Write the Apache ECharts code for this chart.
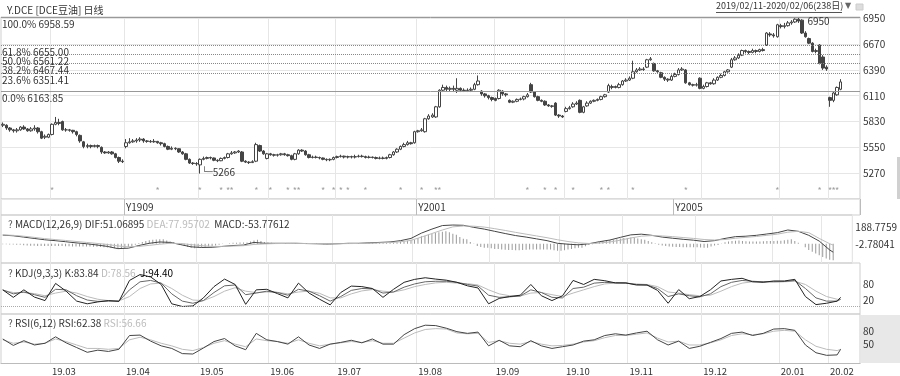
<!DOCTYPE html>
<html lang="zh">
<head>
<meta charset="UTF-8">
<title>Y.DCE 日线</title>
<script src="https://cdn.jsdelivr.net/npm/echarts@6.0.0/dist/echarts.min.js"></script>
</head>
<body style="margin:0;background:#fff">
<div id="main" style="width:900px;height:376px"></div>
<script>
// [open, close, low, high] per trading day
var candles = [
    // 2019.02
    [5790,5800,5770,5820],[5790,5760,5740,5800],[5760,5740,5720,5770],[5740,5730,5710,5750],[5730,5740,5710,5760],
    [5740,5770,5730,5780],[5770,5750,5740,5790],[5750,5730,5720,5760],[5730,5750,5720,5770],[5750,5760,5730,5790],
    [5760,5720,5700,5770],[5720,5650,5640,5730],[5660,5670,5640,5690],[5660,5690,5650,5700],
    // 2019.03
    [5690,5800,5680,5810],[5800,5820,5790,5880],[5820,5810,5790,5860],[5830,5740,5730,5840],[5740,5740,5720,5760],
    [5740,5735,5720,5750],[5735,5720,5700,5740],[5720,5690,5670,5730],[5680,5620,5600,5690],[5610,5560,5540,5620],
    [5560,5570,5540,5590],[5570,5560,5540,5580],[5560,5570,5550,5580],[5570,5560,5540,5580],[5550,5500,5480,5560],
    [5500,5490,5480,5510],[5490,5500,5480,5510],[5500,5480,5470,5510],[5480,5440,5430,5490],[5440,5400,5380,5450],
    [5400,5395,5380,5420],
    // 2019.04
    [5560,5600,5540,5640],[5600,5610,5590,5650],[5610,5620,5600,5640],[5620,5630,5600,5650],[5630,5640,5610,5660],
    [5640,5620,5600,5650],[5620,5615,5600,5630],[5615,5610,5600,5630],[5610,5615,5600,5640],[5615,5600,5590,5620],
    [5600,5590,5570,5610],[5590,5560,5550,5600],[5560,5530,5520,5570],[5530,5540,5520,5560],[5540,5535,5520,5550],
    [5535,5500,5490,5540],[5500,5480,5470,5510],[5480,5420,5410,5490],[5420,5380,5370,5430],[5380,5375,5360,5390],
    [5375,5370,5350,5390],
    // 2019.05
    [5360,5420,5266,5430],[5420,5430,5410,5450],[5430,5440,5420,5450],[5440,5435,5420,5450],[5435,5410,5400,5440],
    [5410,5405,5390,5420],[5405,5430,5400,5440],[5430,5440,5420,5450],[5440,5480,5430,5490],[5480,5490,5470,5510],
    [5490,5500,5480,5510],[5500,5510,5490,5520],[5500,5400,5390,5510],[5400,5390,5380,5410],[5390,5385,5370,5400],
    [5385,5395,5380,5410],[5400,5580,5390,5600],[5570,5510,5500,5580],[5510,5480,5470,5520],[5430,5480,5420,5490],
    // 2019.06
    [5480,5470,5460,5490],[5470,5465,5450,5480],[5465,5470,5450,5480],[5470,5480,5460,5490],[5480,5470,5460,5490],
    [5470,5460,5450,5480],[5460,5420,5410,5470],[5420,5480,5410,5490],[5480,5520,5470,5530],[5520,5510,5500,5530],
    [5510,5470,5460,5520],[5470,5440,5430,5480],[5440,5445,5430,5460],[5445,5440,5430,5460],[5440,5435,5420,5450],
    [5435,5420,5410,5440],[5420,5415,5400,5430],[5415,5420,5400,5430],[5420,5440,5410,5450],
    // 2019.07
    [5440,5450,5430,5460],[5450,5455,5440,5470],[5455,5445,5430,5460],[5445,5450,5430,5460],[5450,5445,5430,5460],
    [5445,5450,5430,5470],[5450,5455,5440,5470],[5455,5450,5440,5470],[5450,5440,5430,5460],[5440,5445,5430,5460],
    [5445,5440,5430,5450],[5440,5430,5420,5450],[5430,5435,5420,5450],[5435,5430,5420,5450],[5430,5440,5420,5450],
    [5440,5470,5430,5480],[5470,5500,5460,5510],[5500,5530,5490,5540],[5530,5560,5520,5570],[5560,5580,5550,5600],
    [5580,5600,5570,5620],[5600,5590,5580,5610],[5600,5720,5590,5730],
    // 2019.08
    [5720,5730,5710,5740],[5730,5740,5720,5760],[5720,5860,5710,5870],[5860,5890,5850,5910],[5880,5900,5870,5920],
    [5880,5990,5870,6000],[5990,6170,5980,6180],[6170,6200,6150,6230],[6200,6180,6160,6220],[6180,6190,6160,6210],
    [6190,6180,6150,6220],[6170,6190,6140,6300],[6190,6170,6150,6200],[6170,6165,6150,6190],[6165,6170,6150,6190],
    [6170,6180,6150,6200],[6180,6230,6170,6250],[6230,6270,6220,6330],[6160,6130,6110,6170],[6130,6110,6090,6140],
    [6110,6090,6070,6120],[6090,6070,6050,6100],
    // 2019.09
    [6080,6060,6050,6090],[6080,6170,6070,6180],[6160,6130,6110,6170],[6130,6120,6100,6140],[6060,6040,6030,6070],
    [6040,6050,6030,6060],[6050,6070,6040,6080],[6070,6075,6060,6090],[6075,6100,6060,6110],[6100,6120,6090,6140],
    [6230,6150,6140,6250],[6150,6100,6090,6160],[6100,6060,6050,6110],[6060,6050,6040,6070],[6050,6010,6000,6060],
    [6010,6000,5990,6020],[6000,5995,5980,6010],[6030,5900,5890,6040],[5900,5890,5870,5910],[5890,5880,5870,5900],
    // 2019.10
    [5940,5970,5930,5990],[5970,5980,5960,6000],[5990,6020,5980,6040],[6020,6030,6010,6050],[6060,5930,5920,6070],
    [5930,5990,5920,6000],[6000,6030,5990,6050],[6030,6050,6020,6060],[6050,6060,6040,6070],[6060,6070,6050,6080],
    [6070,6100,6060,6110],[6100,6120,6090,6130],[6150,6220,6140,6240],[6200,6210,6180,6230],[6210,6200,6190,6220],
    [6200,6230,6190,6250],[6230,6270,6220,6280],[6270,6280,6260,6300],
    // 2019.11
    [6280,6300,6270,6320],[6300,6370,6290,6490],[6370,6390,6360,6410],[6390,6400,6380,6420],[6400,6395,6380,6420],
    [6420,6500,6410,6510],[6500,6510,6490,6530],[6460,6380,6370,6470],[6380,6370,6360,6390],[6360,6310,6300,6370],
    [6310,6290,6270,6320],[6290,6280,6260,6300],[6280,6320,6270,6340],[6320,6340,6310,6360],[6340,6390,6330,6410],
    [6390,6400,6380,6420],[6390,6250,6240,6400],[6250,6230,6220,6260],[6230,6225,6210,6240],[6225,6230,6210,6250],
    [6300,6190,6180,6310],
    // 2019.12
    [6190,6210,6180,6230],[6210,6250,6200,6260],[6250,6240,6230,6260],[6240,6280,6230,6300],[6280,6310,6270,6320],
    [6310,6330,6300,6350],[6330,6370,6320,6380],[6370,6390,6360,6400],[6420,6500,6410,6520],[6500,6520,6490,6540],
    [6520,6550,6510,6570],[6550,6600,6540,6610],[6600,6590,6570,6610],[6590,6580,6560,6600],[6580,6600,6570,6620],
    [6600,6590,6570,6610],[6590,6610,6580,6620],[6610,6600,6590,6630],[6660,6790,6650,6800],[6780,6770,6750,6800],
    [6770,6760,6740,6790],[6750,6880,6740,6890],
    // 2020.01
    [6870,6860,6840,6890],[6860,6870,6840,6900],[6870,6900,6860,6920],[6900,6910,6880,6930],[6910,6940,6900,6950],
    [6940,6920,6900,6958],[6930,6790,6780,6940],[6790,6750,6740,6810],[6730,6680,6670,6740],[6680,6590,6580,6690],
    [6590,6600,6570,6620],[6660,6460,6450,6670],[6530,6410,6390,6550],[6420,6400,6380,6440],
    // 2020.02
    [6090,6060,5990,6100],[6060,6140,6040,6150],[6120,6200,6110,6210],[6180,6260,6170,6290]
];

var monthLabels = ['19.03', '19.04', '19.05', '19.06', '19.07', '19.08', '19.09', '19.10', '19.11', '19.12', '20.01', '20.02'];
var monthStarts = [14, 35, 56, 76, 95, 118, 140, 160, 178, 199, 221, 235];
var rollLabels = ['Y1909', 'Y2001', 'Y2005'];
var rollStarts = [35, 118, 191];
var starIdx = [14, 44, 56, 62, 64, 65, 72, 76, 81, 83, 84, 91, 94, 96, 98, 103, 113, 119, 123, 124,
    149, 154, 157, 162, 170, 172, 179, 194, 220, 232, 235, 236, 237];
var starLevel = 5080;

var fibPct = ['100.0%', '61.8%', '50.0%', '38.2%', '23.6%', '0.0%'];
var fibVal = [6958.59, 6655.00, 6561.22, 6467.44, 6351.41, 6163.85];
var fibSolid = [true, false, false, false, false, true];

// indicator lines, read every third day
var sampleIdx = [0,3,6,9,12,15,18,21,24,27,30,33,36,39,42,45,48,51,54,57,60,63,66,69,72,75,78,81,84,87,
    90,93,96,99,102,105,108,111,114,117,120,123,126,129,132,135,138,141,144,147,150,153,156,159,162,165,
    168,171,174,177,180,183,186,189,192,195,198,201,204,207,210,213,216,219,222,225,228,231,234,237,238];
var macdDif = [97,90,75,60,45,35,23,10,0,-14,-30,-55,-50,-20,5,20,15,-10,-35,-42,-40,-30,-20,-15,15,5,5,5,5,2,
    0,-3,0,5,5,10,15,20,35,60,120,165,205,211,208,185,165,140,115,92,75,55,35,5,-5,-12,0,23,42,72,100,108,95,
    75,62,50,40,25,35,60,80,85,95,110,125,155,140,95,30,-70,-95];
var macdDea = [100,95,85,72,58,47,37,26,15,4,-8,-25,-35,-30,-18,-5,5,3,-10,-22,-30,-30,-26,-22,-8,-2,2,3,4,3,
    2,0,0,2,3,6,10,14,22,38,75,115,155,190,200,198,188,170,150,128,108,88,68,45,25,10,3,8,20,40,65,85,92,
    88,80,70,60,48,42,48,62,72,82,95,108,130,140,125,60,0,-15];
// MACD bars, one per day
var macdHist = [-5,-6,-8,-9,-10,-12,-16,-20,-22,-23,-24,-25,-26,-26,-25,-24,-24,-26,-27,-28,-30,-31,-32,-31,
    -30,-30,-33,-35,-36,-39,-42,-44,-50,-56,-60,-48,-38,-30,-10,8,20,32,40,46,48,50,50,36,26,20,4,-12,-26,-36,
    -44,-50,-46,-42,-40,-32,-26,-20,-12,-4,0,6,10,12,13,14,14,24,38,46,30,20,14,10,7,6,5,4,4,3,2,2,0,
    -1,-2,-3,-4,-4,-5,-6,-6,-3,0,0,3,5,6,5,4,4,6,8,8,9,10,10,11,12,12,18,24,26,34,44,44,66,84,90,104,
    114,120,130,136,140,130,114,100,76,56,50,20,-4,-26,-36,-44,-46,-52,-58,-60,-64,-68,-70,-71,-72,-72,-70,
    -68,-66,-66,-66,-66,-66,-66,-66,-72,-78,-80,-72,-64,-60,-52,-46,-44,-28,-14,-6,10,22,30,36,42,44,52,
    60,64,66,70,70,60,50,46,30,16,6,-10,-20,-26,-30,-34,-36,-38,-40,-40,-40,-40,-40,-42,-44,-46,-30,
    -20,-14,4,16,24,30,34,36,32,28,26,26,26,26,28,30,30,32,34,34,40,46,50,30,10,0,-40,-70,-90,-110,
    -130,-150,-165,-180,-185];
var kdjK = [60,45,52,42,32,62,60,38,22,17,18,18,60,90,95,85,45,18,10,20,50,75,78,42,48,55,50,40,62,55,
    38,18,35,58,65,64,48,52,70,82,90,92,92,88,80,74,40,32,34,37,60,50,32,30,65,70,85,88,86,85,80,78,65,
    35,45,38,34,45,72,88,95,92,90,90,91,95,65,30,18,18,25];
var kdjD = [58,50,50,46,38,48,55,48,35,25,20,19,35,65,82,85,65,40,22,20,35,55,68,55,50,52,51,45,52,55,
    47,30,30,45,56,61,55,52,60,72,80,86,88,85,83,78,60,45,38,37,48,50,42,35,48,60,72,82,85,85,82,80,72,
    52,48,42,38,40,55,72,85,90,90,90,90,92,80,55,35,25,24];
var kdjJ = [60,32,60,33,20,84,55,18,8,15,20,17,95,117,108,80,8,-2,0,30,72,100,80,6,60,62,46,30,85,48,
    25,4,50,74,72,65,32,62,88,99,105,100,96,88,75,67,8,28,35,40,80,38,20,38,95,80,99,94,86,86,78,78,58,
    10,61,27,35,60,93,99,103,90,88,93,93,99,35,5,10,18,32];
var rsi6 = [62,47,58,48,52,67,53,42,31,36,33,38,70,71,57,46,40,28,27,41,56,63,46,37,75,60,56,50,67,48,
    40,50,54,59,53,62,50,50,72,86,94,93,87,79,75,78,46,59,46,44,58,46,40,44,48,57,60,70,74,71,76,80,60,
    48,57,40,45,54,63,75,78,70,75,85,86,82,48,30,24,25,38];
var rsi12 = [60,52,55,50,52,62,56,48,40,40,38,40,60,66,60,52,46,38,35,42,52,58,50,44,62,58,56,52,60,52,
    46,50,53,56,54,58,52,52,64,76,84,86,85,76,74,75,54,58,52,50,56,50,46,47,50,55,58,65,70,70,73,76,64,
    55,57,48,48,53,60,70,74,72,74,80,82,80,60,45,38,35,38];

var macdTicks = [-2.78041, 188.7759];
var kdjTicks = [20, 80];
var kdjBase = 0;
var rsiTicks = [50, 80];

var FONT = 'Noto Sans CJK SC';
var TXT = '#333';
var GRID_LINE = '#e6e6e6';

// a few empty slots after the last day, as in the original window
var cats = [];
for (var i = 0; i < candles.length + 5; i++) cats.push(i);

function pairs(vals) {
    return vals.map(function (v, n) { return [sampleIdx[n], v]; });
}

function monthLine(i) { return monthStarts.indexOf(i) >= 0; }

function xAxisFor(grid, extra) {
    var ax = {
        type: 'category', gridIndex: grid, data: cats, boundaryGap: true,
        axisLine: { show: false }, axisTick: { show: false }, axisLabel: { show: false },
        splitLine: { show: true, interval: monthLine, lineStyle: { color: GRID_LINE, width: 1 } }
    };
    for (var k in extra) ax[k] = extra[k];
    return ax;
}

function sideAxis(grid, min, max, ticks) {
    return {
        type: 'value', gridIndex: grid, position: 'right', min: min, max: max,
        axisLine: { show: false }, axisTick: { show: false }, splitLine: { show: false },
        axisLabel: {
            customValues: ticks, color: TXT, fontFamily: FONT, fontSize: 10, margin: 3,
            formatter: function (v) { return String(v); }
        }
    };
}

function lineSeries(grid, vals, color) {
    return {
        type: 'line', xAxisIndex: grid, yAxisIndex: grid, data: pairs(vals),
        symbol: 'none', lineStyle: { color: color, width: 1 }, silent: true
    };
}

function header(top, rich, text) {
    return { left: 3, top: top, text: text, textStyle: { fontSize: 10, fontFamily: FONT, fontWeight: 'normal', color: TXT, rich: rich } };
}

var headRich = {
    q: { color: '#555', fontSize: 10, fontFamily: FONT },
    a: { color: '#333', fontSize: 10, fontFamily: FONT },
    b: { color: '#bbb', fontSize: 10, fontFamily: FONT },
    c: { color: '#000', fontSize: 10, fontFamily: FONT }
};

var fibLines = fibVal.map(function (v, n) {
    return {
        yAxis: v,
        lineStyle: { color: fibSolid[n] ? '#999' : '#888', type: fibSolid[n] ? 'solid' : 'dotted', width: 1 },
        label: { formatter: fibPct[n] + ' ' + v.toFixed(2) }
    };
});

var chart = echarts.init(document.getElementById('main'));
var borderStyle = { show: true, borderColor: '#cfcfcf', borderWidth: 1 };

chart.setOption({
    animation: false,
    textStyle: { fontFamily: FONT },
    title: [
        { left: 2, top: 0, text: 'Y.DCE [DCE豆油] 日线', textStyle: { fontSize: 10, fontFamily: FONT, fontWeight: 'normal', color: TXT } },
        header(214, headRich, '{q|?} {a|MACD(12,26,9) DIF:51.06895} {b|DEA:77.95702}  {a|MACD:-53.77612}'),
        header(263, headRich, '{q|?} {a|KDJ(9,3,3) K:83.84} {b|D:78.56}  {c|J:94.40}'),
        header(313, headRich, '{q|?} {a|RSI(6,12) RSI:62.38} {b|RSI:56.66}')
    ],
    graphic: [
        { type: 'rect', z: -1, shape: { x: 861, y: 315, width: 39, height: 48 }, style: { fill: '#e8e8e8' } },
        { type: 'rect', z: -1, shape: { x: 897, y: 157, width: 3, height: 42 }, style: { fill: '#d0d0d0' } },
        { type: 'text', x: 716, y: 1, style: { text: '2019/02/11-2020/02/06(238日)', fill: TXT, fontSize: 9, fontFamily: FONT } },
        { type: 'line', shape: { x1: 716, y1: 12.5, x2: 842, y2: 12.5 }, style: { stroke: '#555', lineWidth: 1 } },
        { type: 'text', x: 845, y: 2, style: { text: '▼', fill: '#666', fontSize: 8, fontFamily: 'DejaVu Sans' } },
        { type: 'rect', shape: { x: 856, y: 4, width: 7, height: 6 }, style: { fill: '#ddd', stroke: '#ccc' } }
    ],
    grid: [
        Object.assign({ left: 1, right: 40, top: 17, height: 182 }, borderStyle),
        Object.assign({ left: 1, right: 40, top: 199, height: 16 }, borderStyle),
        Object.assign({ left: 1, right: 40, top: 215, height: 48 }, borderStyle),
        Object.assign({ left: 1, right: 40, top: 263, height: 51 }, borderStyle),
        Object.assign({ left: 1, right: 40, top: 314, height: 50 }, borderStyle)
    ],
    xAxis: [
        xAxisFor(0, {}),
        xAxisFor(1, {
            position: 'top',
            splitLine: { show: true, interval: function (i) { return rollStarts.indexOf(i) >= 0; }, lineStyle: { color: '#bbb' } },
            axisLabel: {
                show: true, inside: true, margin: 3, align: 'left', verticalAlign: 'top',
                color: TXT, fontFamily: FONT, fontSize: 10,
                interval: function (i) { return rollStarts.indexOf(i) >= 0; },
                formatter: function (v, i) { return rollLabels[rollStarts.indexOf(i)] || ''; }
            }
        }),
        xAxisFor(2, {}),
        xAxisFor(3, {}),
        xAxisFor(4, {
            axisLine: { show: true, lineStyle: { color: '#bbb' } },
            axisLabel: {
                show: true, margin: 3, align: 'left', color: TXT, fontFamily: FONT, fontSize: 9.5,
                interval: monthLine,
                formatter: function (v, i) { return monthLabels[monthStarts.indexOf(i)] || ''; }
            }
        })
    ],
    yAxis: [
        {
            type: 'value', gridIndex: 0, position: 'right', min: 4990, max: 6964, interval: 280,
            axisLine: { show: false }, axisTick: { show: false },
            splitLine: { lineStyle: { color: GRID_LINE } },
            axisLabel: {
                showMinLabel: false, showMaxLabel: false, color: TXT, fontFamily: FONT, fontSize: 10, margin: 3,
                formatter: function (v) { return String(v); }
            }
        },
        { type: 'value', gridIndex: 1, show: false, min: 0, max: 1 },
        sideAxis(2, -217, 324, macdTicks),
        sideAxis(3, -30, 160, kdjTicks),
        sideAxis(4, 5, 120, rsiTicks)
    ],
    series: [
        {
            type: 'candlestick', xAxisIndex: 0, yAxisIndex: 0, data: candles, barWidth: 3,
            itemStyle: { color: '#fff', color0: '#444', borderColor: '#444', borderColor0: '#444', borderWidth: 1 },
            markLine: {
                silent: true, symbol: ['none', 'none'], data: fibLines,
                label: { position: 'insideStartBottom', distance: [1, 2], color: TXT, fontFamily: FONT, fontSize: 10 }
            },
            markPoint: {
                silent: true, symbol: 'circle', symbolSize: 0,
                data: [
                    { coord: [226, 6958], label: { show: true, position: 'right', offset: [4, 4], formatter: '6950', color: TXT, fontSize: 10, fontFamily: FONT } },
                    { coord: [56, 5266], label: { show: true, position: 'right', offset: [-3, -1], formatter: '{l|└─}{t|5266}',
                        rich: { l: { fontFamily: 'DejaVu Sans', fontSize: 9, color: '#555' }, t: { fontFamily: FONT, fontSize: 10, color: TXT } } } }
                ]
            }
        },
        {
            type: 'scatter', xAxisIndex: 0, yAxisIndex: 0, silent: true, symbolSize: 1,
            itemStyle: { color: 'rgba(0,0,0,0)' },
            data: starIdx.map(function (i) { return [i, starLevel]; }),
            label: { show: true, position: 'inside', formatter: '*', color: '#888', fontSize: 9, fontFamily: FONT }
        },
        {
            type: 'bar', xAxisIndex: 2, yAxisIndex: 2, data: macdHist, barWidth: 1, silent: true,
            itemStyle: { color: '#999' }
        },
        lineSeries(2, macdDif, '#444'),
        lineSeries(2, macdDea, '#bbb'),
        {
            type: 'line', xAxisIndex: 3, yAxisIndex: 3, data: [], silent: true,
            markLine: {
                silent: true, symbol: ['none', 'none'], label: { show: false },
                lineStyle: { color: '#aaa', type: 'dotted', width: 1 },
                data: [{ yAxis: kdjBase }]
            }
        },
        lineSeries(3, kdjD, '#bbb'),
        lineSeries(3, kdjK, '#666'),
        lineSeries(3, kdjJ, '#222'),
        lineSeries(4, rsi12, '#bbb'),
        lineSeries(4, rsi6, '#444')
    ]
});
</script>
</body>
</html>
